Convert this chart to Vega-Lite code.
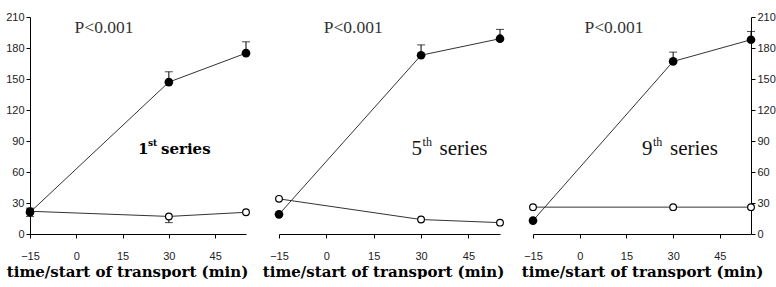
{
  "$schema": "https://vega.github.io/schema/vega-lite/v6.json",
  "background": "white",
  "padding": {"left": 5, "top": 11, "right": 4, "bottom": 0},
  "spacing": 33,
  "bounds": "flush",
  "config": {
    "view": {"stroke": null},
    "axis": {
      "grid": false, "domainColor": "#000", "tickColor": "#000", "tickSize": 4, "labelOverlap": false, "labelFlush": false, "labelBound": false,
      "labelFont": "Liberation Sans", "labelFontSize": 11, "labelColor": "#222",
      "titleFont": "DejaVu Serif", "titleFontWeight": "bold", "titleFontSize": 15, "titleColor": "#000"
    }
  },
  "datasets": {
    "pts": [
      {"panel": 1, "series": "filled", "t": -15, "v": 21, "hi": 25, "lo": 17},
      {"panel": 1, "series": "filled", "t": 30, "v": 147, "hi": 157},
      {"panel": 1, "series": "filled", "t": 55, "v": 175, "hi": 186},
      {"panel": 1, "series": "open", "t": -15, "v": 22},
      {"panel": 1, "series": "open", "t": 30, "v": 17, "lo": 11},
      {"panel": 1, "series": "open", "t": 55, "v": 21},
      {"panel": 2, "series": "filled", "t": -15, "v": 19},
      {"panel": 2, "series": "filled", "t": 30, "v": 173, "hi": 183},
      {"panel": 2, "series": "filled", "t": 55, "v": 189, "hi": 198},
      {"panel": 2, "series": "open", "t": -15, "v": 34},
      {"panel": 2, "series": "open", "t": 30, "v": 14},
      {"panel": 2, "series": "open", "t": 55, "v": 11},
      {"panel": 3, "series": "filled", "t": -15, "v": 13},
      {"panel": 3, "series": "filled", "t": 30, "v": 167, "hi": 176},
      {"panel": 3, "series": "filled", "t": 55, "v": 188, "hi": 196},
      {"panel": 3, "series": "open", "t": -15, "v": 26},
      {"panel": 3, "series": "open", "t": 30, "v": 26},
      {"panel": 3, "series": "open", "t": 55, "v": 26}
    ],
    "notes": [
      {"panel": 1, "px": 9, "py": 199, "pt": "P<0.001", "sx": 20, "sy": 82, "num": "1", "sup": "st", "word": "series"},
      {"panel": 2, "px": 8.5, "py": 199, "pt": "P<0.001", "sx": 27, "sy": 82, "num": "5", "sup": "th", "word": "series"},
      {"panel": 3, "px": 11, "py": 199, "pt": "P<0.001", "sx": 20, "sy": 82, "num": "9", "sup": "th", "word": "series"}
    ]
  },
  "hconcat": [
    {
      "width": 216, "height": 217,
      "layer": [
        {"data": {"name": "pts"}, "transform": [{"filter": "datum.panel == 1"}],
         "mark": {"type": "line", "color": "#333", "strokeWidth": 1},
         "encoding": {
           "x": {"field": "t", "type": "quantitative", "scale": {"domain": [-15, 55], "nice": false}, "axis": {"values": [-15, 0, 15, 30, 45], "labelPadding": 12, "titlePadding": 3, "titleX": 97, "title": "time/start of transport (min)"}},
           "y": {"field": "v", "type": "quantitative", "scale": {"domain": [0, 210], "nice": false}, "axis": {"values": [0, 30, 60, 90, 120, 150, 180, 210], "labelOverlap": false, "title": null, "labelPadding": 2}},
           "detail": {"field": "series"}}},
        {"data": {"name": "pts"}, "transform": [{"filter": "datum.panel == 1 && isValid(datum.hi)"}],
         "mark": {"type": "rule", "color": "#000", "strokeWidth": 1},
         "encoding": {"x": {"field": "t", "type": "quantitative"}, "y": {"field": "v", "type": "quantitative", "axis": {"values": [0, 30, 60, 90, 120, 150, 180, 210], "labelOverlap": false, "title": null, "labelPadding": 2}}, "y2": {"field": "hi"}}},
        {"data": {"name": "pts"}, "transform": [{"filter": "datum.panel == 1 && isValid(datum.hi)"}],
         "mark": {"type": "point", "shape": "stroke", "size": 64, "color": "#000", "strokeWidth": 1},
         "encoding": {"x": {"field": "t", "type": "quantitative"}, "y": {"field": "hi", "type": "quantitative", "axis": {"values": [0, 30, 60, 90, 120, 150, 180, 210], "labelOverlap": false, "title": null, "labelPadding": 2}}}},
        {"data": {"name": "pts"}, "transform": [{"filter": "datum.panel == 1 && isValid(datum.lo)"}],
         "mark": {"type": "rule", "color": "#000", "strokeWidth": 1},
         "encoding": {"x": {"field": "t", "type": "quantitative"}, "y": {"field": "v", "type": "quantitative", "axis": {"values": [0, 30, 60, 90, 120, 150, 180, 210], "labelOverlap": false, "title": null, "labelPadding": 2}}, "y2": {"field": "lo"}}},
        {"data": {"name": "pts"}, "transform": [{"filter": "datum.panel == 1 && isValid(datum.lo)"}],
         "mark": {"type": "point", "shape": "stroke", "size": 64, "color": "#000", "strokeWidth": 1},
         "encoding": {"x": {"field": "t", "type": "quantitative"}, "y": {"field": "lo", "type": "quantitative", "axis": {"values": [0, 30, 60, 90, 120, 150, 180, 210], "labelOverlap": false, "title": null, "labelPadding": 2}}}},
        {"data": {"name": "pts"}, "transform": [{"filter": "datum.panel == 1 && datum.series == 'open'"}],
         "mark": {"type": "point", "shape": "circle", "size": 45, "filled": true, "fill": "white", "stroke": "#000", "strokeWidth": 1.2, "opacity": 1},
         "encoding": {"x": {"field": "t", "type": "quantitative"}, "y": {"field": "v", "type": "quantitative", "axis": {"values": [0, 30, 60, 90, 120, 150, 180, 210], "labelOverlap": false, "title": null, "labelPadding": 2}}}},
        {"data": {"name": "pts"}, "transform": [{"filter": "datum.panel == 1 && datum.series == 'filled'"}],
         "mark": {"type": "point", "shape": "circle", "size": 75, "filled": true, "color": "#000", "opacity": 1},
         "encoding": {"x": {"field": "t", "type": "quantitative"}, "y": {"field": "v", "type": "quantitative", "axis": {"values": [0, 30, 60, 90, 120, 150, 180, 210], "labelOverlap": false, "title": null, "labelPadding": 2}}}},
        {"data": {"name": "notes"}, "transform": [{"filter": "datum.panel == 1"}],
         "mark": {"type": "text", "font": "serif", "fontSize": 17.5, "color": "#333", "align": "center", "baseline": "middle"},
         "encoding": {"x": {"field": "px", "type": "quantitative"}, "y": {"field": "py", "type": "quantitative", "axis": {"values": [0, 30, 60, 90, 120, 150, 180, 210], "labelOverlap": false, "title": null, "labelPadding": 2}}, "text": {"field": "pt"}}},
        {"data": {"name": "notes"}, "transform": [{"filter": "datum.panel == 1"}],
         "mark": {"type": "text", "font": "DejaVu Serif", "fontWeight": "bold", "fontSize": 15, "color": "#000", "align": "left", "baseline": "middle"},
         "encoding": {"x": {"field": "sx", "type": "quantitative"}, "y": {"field": "sy", "type": "quantitative", "axis": {"values": [0, 30, 60, 90, 120, 150, 180, 210], "labelOverlap": false, "title": null, "labelPadding": 2}}, "text": {"field": "num"}}},
        {"data": {"name": "notes"}, "transform": [{"filter": "datum.panel == 1"}],
         "mark": {"type": "text", "font": "DejaVu Serif", "fontWeight": "bold", "fontSize": 9, "color": "#000", "align": "left", "baseline": "middle", "dx": 10, "dy": -6},
         "encoding": {"x": {"field": "sx", "type": "quantitative"}, "y": {"field": "sy", "type": "quantitative", "axis": {"values": [0, 30, 60, 90, 120, 150, 180, 210], "labelOverlap": false, "title": null, "labelPadding": 2}}, "text": {"field": "sup"}}},
        {"data": {"name": "notes"}, "transform": [{"filter": "datum.panel == 1"}],
         "mark": {"type": "text", "font": "DejaVu Serif", "fontWeight": "bold", "fontSize": 15, "color": "#000", "align": "left", "baseline": "middle", "dx": 23},
         "encoding": {"x": {"field": "sx", "type": "quantitative"}, "y": {"field": "sy", "type": "quantitative", "axis": {"values": [0, 30, 60, 90, 120, 150, 180, 210], "labelOverlap": false, "title": null, "labelPadding": 2}}, "text": {"field": "word"}}}
      ]
    },
    {
      "width": 221, "height": 217,
      "layer": [
        {"data": {"name": "pts"}, "transform": [{"filter": "datum.panel == 2"}],
         "mark": {"type": "line", "color": "#333", "strokeWidth": 1},
         "encoding": {
           "x": {"field": "t", "type": "quantitative", "scale": {"domain": [-15, 55], "nice": false}, "axis": {"values": [-15, 0, 15, 30, 45], "labelPadding": 12, "titlePadding": 3, "titleX": 104, "title": "time/start of transport (min)"}},
           "y": {"field": "v", "type": "quantitative", "scale": {"domain": [0, 210], "nice": false}, "axis": null},
           "detail": {"field": "series"}}},
        {"data": {"name": "pts"}, "transform": [{"filter": "datum.panel == 2 && isValid(datum.hi)"}],
         "mark": {"type": "rule", "color": "#000", "strokeWidth": 1},
         "encoding": {"x": {"field": "t", "type": "quantitative"}, "y": {"field": "v", "type": "quantitative", "axis": null}, "y2": {"field": "hi"}}},
        {"data": {"name": "pts"}, "transform": [{"filter": "datum.panel == 2 && isValid(datum.hi)"}],
         "mark": {"type": "point", "shape": "stroke", "size": 64, "color": "#000", "strokeWidth": 1},
         "encoding": {"x": {"field": "t", "type": "quantitative"}, "y": {"field": "hi", "type": "quantitative", "axis": null}}},
        {"data": {"name": "pts"}, "transform": [{"filter": "datum.panel == 2 && datum.series == 'open'"}],
         "mark": {"type": "point", "shape": "circle", "size": 45, "filled": true, "fill": "white", "stroke": "#000", "strokeWidth": 1.2, "opacity": 1},
         "encoding": {"x": {"field": "t", "type": "quantitative"}, "y": {"field": "v", "type": "quantitative", "axis": null}}},
        {"data": {"name": "pts"}, "transform": [{"filter": "datum.panel == 2 && datum.series == 'filled'"}],
         "mark": {"type": "point", "shape": "circle", "size": 75, "filled": true, "color": "#000", "opacity": 1},
         "encoding": {"x": {"field": "t", "type": "quantitative"}, "y": {"field": "v", "type": "quantitative", "axis": null}}},
        {"data": {"name": "notes"}, "transform": [{"filter": "datum.panel == 2"}],
         "mark": {"type": "text", "font": "serif", "fontSize": 17.5, "color": "#333", "align": "center", "baseline": "middle"},
         "encoding": {"x": {"field": "px", "type": "quantitative"}, "y": {"field": "py", "type": "quantitative", "axis": null}, "text": {"field": "pt"}}},
        {"data": {"name": "notes"}, "transform": [{"filter": "datum.panel == 2"}],
         "mark": {"type": "text", "font": "serif", "fontSize": 21, "color": "#111", "align": "left", "baseline": "middle"},
         "encoding": {"x": {"field": "sx", "type": "quantitative"}, "y": {"field": "sy", "type": "quantitative", "axis": null}, "text": {"field": "num"}}},
        {"data": {"name": "notes"}, "transform": [{"filter": "datum.panel == 2"}],
         "mark": {"type": "text", "font": "serif", "fontSize": 12, "color": "#111", "align": "left", "baseline": "middle", "dx": 11, "dy": -7},
         "encoding": {"x": {"field": "sx", "type": "quantitative"}, "y": {"field": "sy", "type": "quantitative", "axis": null}, "text": {"field": "sup"}}},
        {"data": {"name": "notes"}, "transform": [{"filter": "datum.panel == 2"}],
         "mark": {"type": "text", "font": "serif", "fontSize": 21, "color": "#111", "align": "left", "baseline": "middle", "dx": 28},
         "encoding": {"x": {"field": "sx", "type": "quantitative"}, "y": {"field": "sy", "type": "quantitative", "axis": null}, "text": {"field": "word"}}}
      ]
    },
    {
      "width": 218, "height": 217,
      "layer": [
        {"data": {"name": "pts"}, "transform": [{"filter": "datum.panel == 3"}],
         "mark": {"type": "line", "color": "#333", "strokeWidth": 1},
         "encoding": {
           "x": {"field": "t", "type": "quantitative", "scale": {"domain": [-15, 55], "nice": false}, "axis": {"values": [-15, 0, 15, 30, 45], "labelPadding": 12, "titlePadding": 3, "titleX": 109, "title": "time/start of transport (min)"}},
           "y": {"field": "v", "type": "quantitative", "scale": {"domain": [0, 210], "nice": false}, "axis": {"orient": "right", "values": [0, 30, 60, 90, 120, 150, 180, 210], "labelOverlap": false, "title": null, "labelPadding": 2}},
           "detail": {"field": "series"}}},
        {"data": {"name": "pts"}, "transform": [{"filter": "datum.panel == 3 && isValid(datum.hi)"}],
         "mark": {"type": "rule", "color": "#000", "strokeWidth": 1},
         "encoding": {"x": {"field": "t", "type": "quantitative"}, "y": {"field": "v", "type": "quantitative", "axis": {"orient": "right", "values": [0, 30, 60, 90, 120, 150, 180, 210], "labelOverlap": false, "title": null, "labelPadding": 2}}, "y2": {"field": "hi"}}},
        {"data": {"name": "pts"}, "transform": [{"filter": "datum.panel == 3 && isValid(datum.hi)"}],
         "mark": {"type": "point", "shape": "stroke", "size": 64, "color": "#000", "strokeWidth": 1},
         "encoding": {"x": {"field": "t", "type": "quantitative"}, "y": {"field": "hi", "type": "quantitative", "axis": {"orient": "right", "values": [0, 30, 60, 90, 120, 150, 180, 210], "labelOverlap": false, "title": null, "labelPadding": 2}}}},
        {"data": {"name": "pts"}, "transform": [{"filter": "datum.panel == 3 && datum.series == 'open'"}],
         "mark": {"type": "point", "shape": "circle", "size": 45, "filled": true, "fill": "white", "stroke": "#000", "strokeWidth": 1.2, "opacity": 1},
         "encoding": {"x": {"field": "t", "type": "quantitative"}, "y": {"field": "v", "type": "quantitative", "axis": {"orient": "right", "values": [0, 30, 60, 90, 120, 150, 180, 210], "labelOverlap": false, "title": null, "labelPadding": 2}}}},
        {"data": {"name": "pts"}, "transform": [{"filter": "datum.panel == 3 && datum.series == 'filled'"}],
         "mark": {"type": "point", "shape": "circle", "size": 75, "filled": true, "color": "#000", "opacity": 1},
         "encoding": {"x": {"field": "t", "type": "quantitative"}, "y": {"field": "v", "type": "quantitative", "axis": {"orient": "right", "values": [0, 30, 60, 90, 120, 150, 180, 210], "labelOverlap": false, "title": null, "labelPadding": 2}}}},
        {"data": {"name": "notes"}, "transform": [{"filter": "datum.panel == 3"}],
         "mark": {"type": "text", "font": "serif", "fontSize": 17.5, "color": "#333", "align": "center", "baseline": "middle"},
         "encoding": {"x": {"field": "px", "type": "quantitative"}, "y": {"field": "py", "type": "quantitative", "axis": {"orient": "right", "values": [0, 30, 60, 90, 120, 150, 180, 210], "labelOverlap": false, "title": null, "labelPadding": 2}}, "text": {"field": "pt"}}},
        {"data": {"name": "notes"}, "transform": [{"filter": "datum.panel == 3"}],
         "mark": {"type": "text", "font": "serif", "fontSize": 21, "color": "#111", "align": "left", "baseline": "middle"},
         "encoding": {"x": {"field": "sx", "type": "quantitative"}, "y": {"field": "sy", "type": "quantitative", "axis": {"orient": "right", "values": [0, 30, 60, 90, 120, 150, 180, 210], "labelOverlap": false, "title": null, "labelPadding": 2}}, "text": {"field": "num"}}},
        {"data": {"name": "notes"}, "transform": [{"filter": "datum.panel == 3"}],
         "mark": {"type": "text", "font": "serif", "fontSize": 12, "color": "#111", "align": "left", "baseline": "middle", "dx": 11, "dy": -7},
         "encoding": {"x": {"field": "sx", "type": "quantitative"}, "y": {"field": "sy", "type": "quantitative", "axis": {"orient": "right", "values": [0, 30, 60, 90, 120, 150, 180, 210], "labelOverlap": false, "title": null, "labelPadding": 2}}, "text": {"field": "sup"}}},
        {"data": {"name": "notes"}, "transform": [{"filter": "datum.panel == 3"}],
         "mark": {"type": "text", "font": "serif", "fontSize": 21, "color": "#111", "align": "left", "baseline": "middle", "dx": 28},
         "encoding": {"x": {"field": "sx", "type": "quantitative"}, "y": {"field": "sy", "type": "quantitative", "axis": {"orient": "right", "values": [0, 30, 60, 90, 120, 150, 180, 210], "labelOverlap": false, "title": null, "labelPadding": 2}}, "text": {"field": "word"}}}
      ]
    }
  ]
}
